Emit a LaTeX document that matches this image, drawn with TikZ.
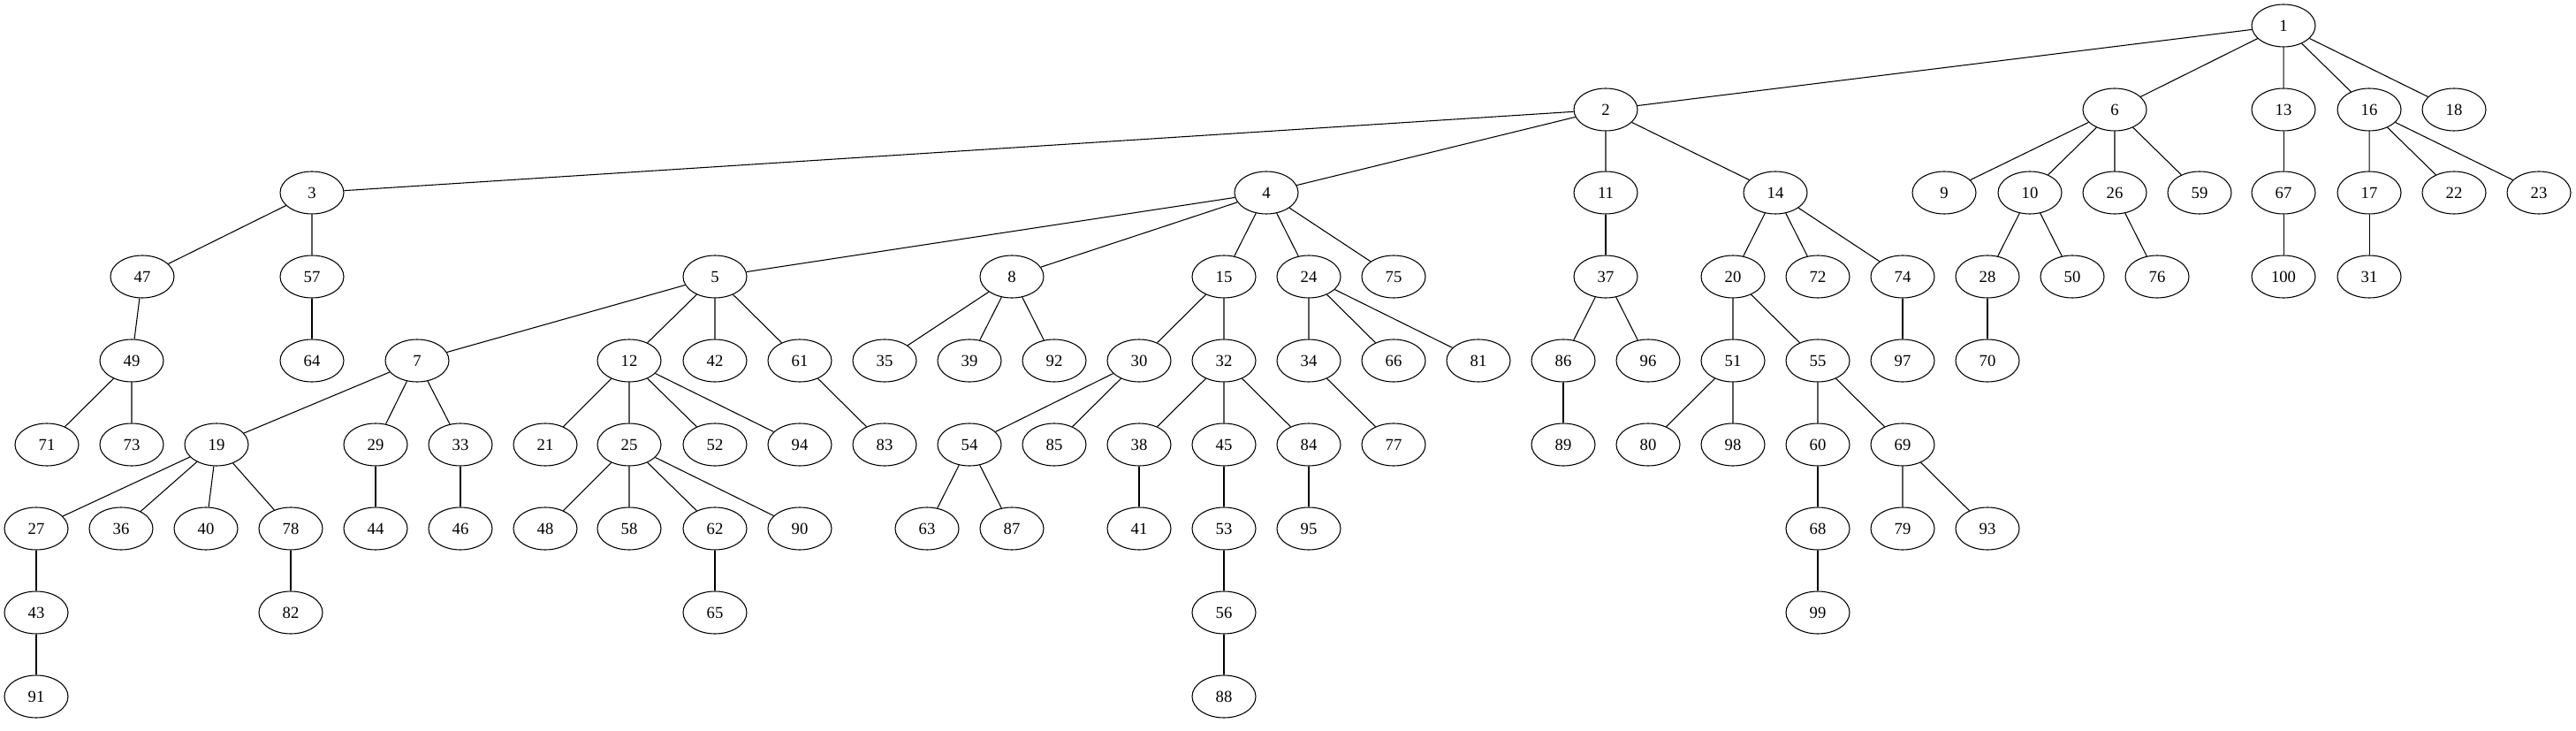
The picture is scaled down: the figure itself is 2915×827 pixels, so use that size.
\documentclass[tikz,border=0pt]{standalone}
\usepackage{fontspec}
\setmainfont{Liberation Serif}
\usetikzlibrary{shapes.geometric}
\tikzset{vtx/.style={draw,ellipse,minimum width=54pt,minimum height=36pt,inner sep=0pt,font=\fontsize{14}{16}\selectfont}}

\begin{document}
\begin{tikzpicture}[x=0.75pt,y=-0.75pt,line width=0.8pt]
    \useasboundingbox(0,0)rectangle(2915,827);
    % level 0
    \node[vtx](n1)at(2584,29){1};
    % level 1
    \node[vtx](n2)at(1817,124){2};
    \node[vtx](n6)at(2393,124){6};
    \node[vtx](n13)at(2584,124){13};
    \node[vtx](n16)at(2681,124){16};
    \node[vtx](n18)at(2777,124){18};
    % level 2
    \node[vtx](n3)at(353,218){3};
    \node[vtx](n4)at(1433,218){4};
    \node[vtx](n11)at(1817,218){11};
    \node[vtx](n14)at(2009,218){14};
    \node[vtx](n9)at(2200,218){9};
    \node[vtx](n10)at(2297,218){10};
    \node[vtx](n26)at(2393,218){26};
    \node[vtx](n59)at(2489,218){59};
    \node[vtx](n67)at(2584,218){67};
    \node[vtx](n17)at(2681,218){17};
    \node[vtx](n22)at(2777,218){22};
    \node[vtx](n23)at(2873,218){23};
    % level 3
    \node[vtx](n47)at(161,313){47};
    \node[vtx](n57)at(353,313){57};
    \node[vtx](n5)at(809,313){5};
    \node[vtx](n8)at(1145,313){8};
    \node[vtx](n15)at(1385,313){15};
    \node[vtx](n24)at(1481,313){24};
    \node[vtx](n75)at(1577,313){75};
    \node[vtx](n37)at(1817,313){37};
    \node[vtx](n20)at(1961,313){20};
    \node[vtx](n72)at(2057,313){72};
    \node[vtx](n74)at(2153,313){74};
    \node[vtx](n28)at(2249,313){28};
    \node[vtx](n50)at(2345,313){50};
    \node[vtx](n76)at(2441,313){76};
    \node[vtx](n100)at(2584,313){100};
    \node[vtx](n31)at(2681,313){31};
    % level 4
    \node[vtx](n49)at(149,408){49};
    \node[vtx](n64)at(353,408){64};
    \node[vtx](n7)at(472,408){7};
    \node[vtx](n12)at(712,408){12};
    \node[vtx](n42)at(809,408){42};
    \node[vtx](n61)at(905,408){61};
    \node[vtx](n35)at(1001,408){35};
    \node[vtx](n39)at(1097,408){39};
    \node[vtx](n92)at(1193,408){92};
    \node[vtx](n30)at(1289,408){30};
    \node[vtx](n32)at(1385,408){32};
    \node[vtx](n34)at(1481,408){34};
    \node[vtx](n66)at(1577,408){66};
    \node[vtx](n81)at(1673,408){81};
    \node[vtx](n86)at(1769,408){86};
    \node[vtx](n96)at(1865,408){96};
    \node[vtx](n51)at(1961,408){51};
    \node[vtx](n55)at(2057,408){55};
    \node[vtx](n97)at(2153,408){97};
    \node[vtx](n70)at(2249,408){70};
    % level 5
    \node[vtx](n71)at(53,503){71};
    \node[vtx](n73)at(149,503){73};
    \node[vtx](n19)at(245,503){19};
    \node[vtx](n29)at(425,503){29};
    \node[vtx](n33)at(521,503){33};
    \node[vtx](n21)at(617,503){21};
    \node[vtx](n25)at(712,503){25};
    \node[vtx](n52)at(809,503){52};
    \node[vtx](n94)at(905,503){94};
    \node[vtx](n83)at(1001,503){83};
    \node[vtx](n54)at(1097,503){54};
    \node[vtx](n85)at(1193,503){85};
    \node[vtx](n38)at(1289,503){38};
    \node[vtx](n45)at(1385,503){45};
    \node[vtx](n84)at(1481,503){84};
    \node[vtx](n77)at(1577,503){77};
    \node[vtx](n89)at(1769,503){89};
    \node[vtx](n80)at(1865,503){80};
    \node[vtx](n98)at(1961,503){98};
    \node[vtx](n60)at(2057,503){60};
    \node[vtx](n69)at(2153,503){69};
    % level 6
    \node[vtx](n27)at(41,598){27};
    \node[vtx](n36)at(137,598){36};
    \node[vtx](n40)at(233,598){40};
    \node[vtx](n78)at(329,598){78};
    \node[vtx](n44)at(425,598){44};
    \node[vtx](n46)at(521,598){46};
    \node[vtx](n48)at(617,598){48};
    \node[vtx](n58)at(712,598){58};
    \node[vtx](n62)at(809,598){62};
    \node[vtx](n90)at(905,598){90};
    \node[vtx](n63)at(1049,598){63};
    \node[vtx](n87)at(1145,598){87};
    \node[vtx](n41)at(1289,598){41};
    \node[vtx](n53)at(1385,598){53};
    \node[vtx](n95)at(1481,598){95};
    \node[vtx](n68)at(2057,598){68};
    \node[vtx](n79)at(2153,598){79};
    \node[vtx](n93)at(2249,598){93};
    % level 7
    \node[vtx](n43)at(41,693){43};
    \node[vtx](n82)at(329,693){82};
    \node[vtx](n65)at(809,693){65};
    \node[vtx](n56)at(1385,693){56};
    \node[vtx](n99)at(2057,693){99};
    % level 8
    \node[vtx](n91)at(41,788){91};
    \node[vtx](n88)at(1385,788){88};

    % edges
    \draw(n1)--(n2)(n1)--(n6)(n1)--(n13)(n1)--(n16)(n1)--(n18);
    \draw(n2)--(n3)(n2)--(n4)(n2)--(n11)(n2)--(n14);
    \draw(n6)--(n9)(n6)--(n10)(n6)--(n26)(n6)--(n59);
    \draw(n13)--(n67);
    \draw(n16)--(n17)(n16)--(n22)(n16)--(n23);
    \draw(n3)--(n47)(n3)--(n57);
    \draw(n4)--(n5)(n4)--(n8)(n4)--(n15)(n4)--(n24)(n4)--(n75);
    \draw(n11)--(n37);
    \draw(n14)--(n20)(n14)--(n72)(n14)--(n74);
    \draw(n10)--(n28)(n10)--(n50);
    \draw(n26)--(n76);
    \draw(n67)--(n100);
    \draw(n17)--(n31);
    \draw(n47)--(n49);
    \draw(n57)--(n64);
    \draw(n5)--(n7)(n5)--(n12)(n5)--(n42)(n5)--(n61);
    \draw(n8)--(n35)(n8)--(n39)(n8)--(n92);
    \draw(n15)--(n30)(n15)--(n32);
    \draw(n24)--(n34)(n24)--(n66)(n24)--(n81);
    \draw(n37)--(n86)(n37)--(n96);
    \draw(n20)--(n51)(n20)--(n55);
    \draw(n74)--(n97);
    \draw(n28)--(n70);
    \draw(n49)--(n71)(n49)--(n73);
    \draw(n7)--(n19)(n7)--(n29)(n7)--(n33);
    \draw(n12)--(n21)(n12)--(n25)(n12)--(n52)(n12)--(n94);
    \draw(n61)--(n83);
    \draw(n30)--(n54)(n30)--(n85);
    \draw(n32)--(n38)(n32)--(n45)(n32)--(n84);
    \draw(n34)--(n77);
    \draw(n86)--(n89);
    \draw(n51)--(n80)(n51)--(n98);
    \draw(n55)--(n60)(n55)--(n69);
    \draw(n19)--(n27)(n19)--(n36)(n19)--(n40)(n19)--(n78);
    \draw(n29)--(n44);
    \draw(n33)--(n46);
    \draw(n25)--(n48)(n25)--(n58)(n25)--(n62)(n25)--(n90);
    \draw(n54)--(n63)(n54)--(n87);
    \draw(n38)--(n41);
    \draw(n45)--(n53);
    \draw(n84)--(n95);
    \draw(n60)--(n68);
    \draw(n69)--(n79)(n69)--(n93);
    \draw(n27)--(n43);
    \draw(n78)--(n82);
    \draw(n62)--(n65);
    \draw(n53)--(n56);
    \draw(n68)--(n99);
    \draw(n43)--(n91);
    \draw(n56)--(n88);
\end{tikzpicture}
\end{document}
